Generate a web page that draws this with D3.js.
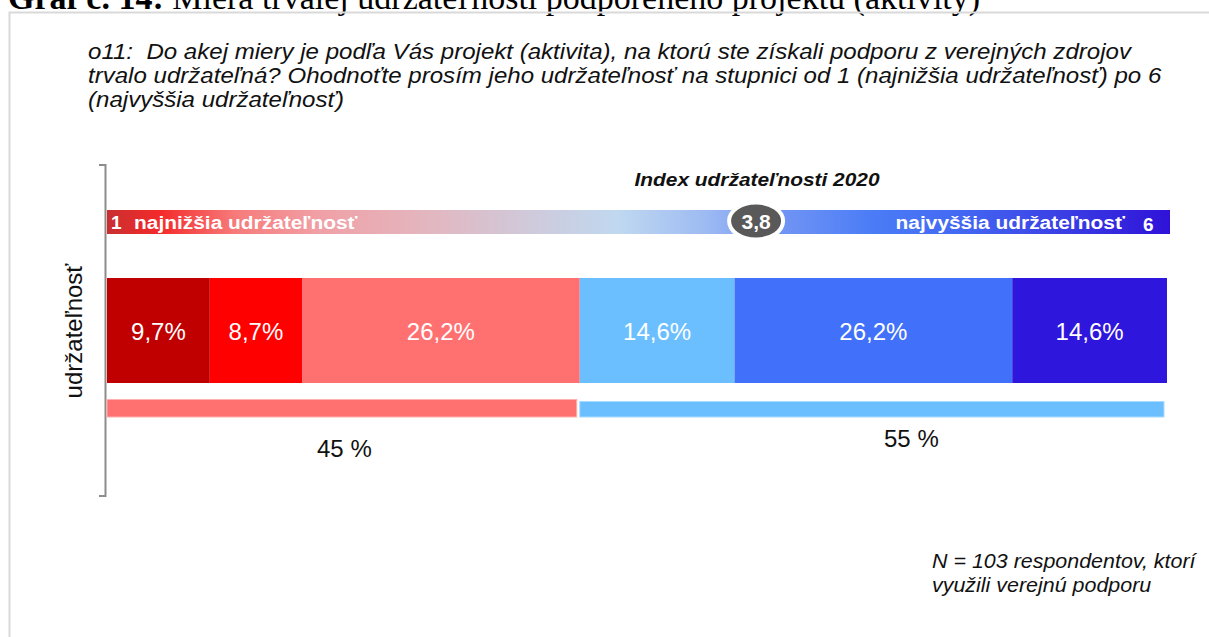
<!DOCTYPE html>
<html>
<head>
<meta charset="utf-8">
<script src="https://cdn.jsdelivr.net/npm/d3@7"></script>
<style>
  body { margin: 0; background: #fff; }
  svg { display: block; }
</style>
</head>
<body>
<div id="chart"></div>
<script>
// data
const scores = ["1", "2", "3", "4", "5", "6"];
const shares = [9.7, 8.7, 26.2, 14.6, 26.2, 14.6];
const shareLabels = ["9,7%", "8,7%", "26,2%", "14,6%", "26,2%", "14,6%"];
const groupNames = ["nízka", "vysoká"];
const groupLabels = ["45 %", "55 %"];
const indexValue = 3.8;
const indexLabel = "3,8";

const segColors = ["#c00000", "#ff0000", "#ff7171", "#6bbfff", "#4170fa", "#2f16dc"];
const groupColors = ["#ff7171", "#6bbfff"];
const groupStroke = ["#ffb0b0", "#a8dcff"];

const W = 1209, H = 637;
const font = "'Liberation Sans', Arial, sans-serif";

const svg = d3.select("#chart").append("svg")
  .attr("width", W).attr("height", H)
  .style("font-family", font);

// cut off caption at the very top
const cap = svg.append("text")
  .attr("x", 8).attr("y", 9)
  .style("font-family", "'Liberation Serif', 'Times New Roman', serif")
  .style("font-size", "34px");
cap.append("tspan").attr("font-weight", "bold").text("Graf č. 14:");
cap.append("tspan").text(" Miera trvalej udržateľnosti podporeného projektu (aktivity)");

// frame
svg.append("rect")
  .attr("x", 9.5).attr("y", 12.5)
  .attr("width", W + 20).attr("height", H + 20)
  .attr("fill", "none").attr("stroke", "#d9d9d9").attr("stroke-width", 2);

// the source text is slightly wider than Liberation Sans
const stretch = 1.1;

// question
const qLines = [
  "o11:  Do akej miery je podľa Vás projekt (aktivita), na ktorú ste získali podporu z verejných zdrojov",
  "trvalo udržateľná? Ohodnoťte prosím jeho udržateľnosť na stupnici od 1 (najnižšia udržateľnosť) po 6",
  "(najvyššia udržateľnosť)"
];
svg.append("g").selectAll("text")
  .data(qLines)
  .join("text")
  .attr("transform", (d, i) => `translate(88,${59 + i * 24}) scale(1.12,1)`)
  .style("font-size", "21.5px")
  .style("font-style", "italic")
  .style("white-space", "pre")
  .attr("fill", "#111")
  .text(d => d);

// scales
const x = d3.scaleLinear().domain([0, 100]).range([107, 1167]);

// stacked data
let acc = 0;
const stack = shares.map((v, i) => {
  const s = { score: scores[i], v, x0: acc, x1: acc + v, label: shareLabels[i], color: segColors[i] };
  acc += v;
  return s;
});
const lowSum = d3.sum(shares.slice(0, 3));
const groups = [
  { name: groupNames[0], x0: 0, x1: lowSum, label: groupLabels[0] },
  { name: groupNames[1], x0: lowSum, x1: 100, label: groupLabels[1] }
];

// bracket on the left
const br = svg.append("g").attr("stroke", "#8c8c8c").attr("stroke-width", 2).attr("fill", "none");
br.append("path").attr("d", "M99,165 H105.5 V496 H99");

svg.append("text")
  .attr("transform", "translate(82,331) rotate(-90)")
  .attr("text-anchor", "middle")
  .style("font-size", "24px")
  .attr("fill", "#111")
  .text("udržateľnosť");

// main stacked bar
const barTop = 278, barH = 105;
svg.append("g").selectAll("rect")
  .data(stack)
  .join("rect")
  .attr("x", d => x(d.x0))
  .attr("y", barTop)
  .attr("width", d => x(d.x1) - x(d.x0))
  .attr("height", barH)
  .attr("fill", d => d.color);

svg.append("g").selectAll("text")
  .data(stack)
  .join("text")
  .attr("x", d => (x(d.x0) + x(d.x1)) / 2)
  .attr("y", barTop + 62)
  .attr("text-anchor", "middle")
  .attr("fill", "#fff")
  .style("font-size", "24px")
  .text(d => d.label);

// low / high summary bar
svg.append("g").selectAll("rect")
  .data(groups)
  .join("rect")
  .attr("x", d => x(d.x0))
  .attr("y", (d, i) => i ? 401.5 : 399.5)
  .attr("width", d => x(d.x1) - x(d.x0) - 3)
  .attr("height", (d, i) => i ? 15.5 : 17.5)
  .attr("fill", (d, i) => groupColors[i])
  .attr("stroke", (d, i) => groupStroke[i])
  .attr("stroke-width", 1);

svg.append("g").selectAll("text")
  .data(groups)
  .join("text")
  .attr("x", (d, i) => (x(d.x0) + x(d.x1)) / 2 + (i ? 38 : 1))
  .attr("y", (d, i) => i ? 447 : 457)
  .attr("text-anchor", "middle")
  .attr("fill", "#111")
  .style("font-size", "24px")
  .text(d => d.label);

// index gradient bar
const defs = svg.append("defs");
const grad = defs.append("linearGradient").attr("id", "idxGrad")
  .attr("x1", "0%").attr("x2", "100%").attr("y1", "0%").attr("y2", "0%");
const stops = [
  [0, "#c92f30"], [0.05, "#f42a2a"], [0.12, "#f77a7a"], [0.2, "#f0a0a6"],
  [0.3, "#e3b6bf"], [0.4, "#cfcadb"], [0.48, "#c0d8f0"], [0.56, "#9fbcf2"],
  [0.63, "#7396f4"], [0.72, "#4b7cf6"], [0.8, "#4369f3"], [0.9, "#3a3ee4"], [1, "#2f12d8"]
];
grad.selectAll("stop").data(stops).join("stop")
  .attr("offset", d => d[0]).attr("stop-color", d => d[1]);

const gx0 = 107, gx1 = 1170, gy = 210, gh = 24;
svg.append("rect")
  .attr("x", gx0).attr("y", gy).attr("width", gx1 - gx0).attr("height", gh)
  .attr("fill", "url(#idxGrad)");

svg.append("text")
  .attr("transform", `translate(757,186) scale(${stretch},1)`)
  .attr("text-anchor", "middle")
  .style("font-size", "19px").style("font-weight", "bold").style("font-style", "italic")
  .attr("fill", "#111")
  .text("Index udržateľnosti 2020");

const endLbl = svg.append("g").attr("fill", "#fff")
  .style("font-size", "19px").style("font-weight", "bold");
endLbl.append("text").attr("x", 111).attr("y", 229).text(scores[0]);
endLbl.append("text").attr("transform", `translate(134,229) scale(${stretch},1)`).text("najnižšia udržateľnosť");
endLbl.append("text").attr("transform", `translate(1125,229) scale(${stretch},1)`)
  .attr("text-anchor", "end").text("najvyššia udržateľnosť");
endLbl.append("text").attr("x", 1143).attr("y", 231).text(scores[5]);

// index marker
const idx = d3.scaleLinear().domain([0.35, 6]).range([gx0, gx1]);
const mk = svg.append("g").attr("transform", `translate(${idx(indexValue)},${gy + gh / 2 - 1})`);
mk.append("ellipse").attr("rx", 27).attr("ry", 18.5)
  .attr("fill", "#595959").attr("stroke", "#fff").attr("stroke-width", 4);
mk.append("text")
  .attr("text-anchor", "middle").attr("y", 7.5)
  .attr("fill", "#fff")
  .style("font-size", "21px").style("font-weight", "bold")
  .text(indexLabel);

// footnote
const foot = ["N = 103 respondentov, ktorí", "využili verejnú podporu"];
svg.append("g").selectAll("text")
  .data(foot)
  .join("text")
  .attr("transform", (d, i) => `translate(932,${568 + i * 24}) scale(${stretch},1)`)
  .style("font-size", "19.5px")
  .style("font-style", "italic")
  .attr("fill", "#111")
  .text(d => d);
</script>
</body>
</html>
